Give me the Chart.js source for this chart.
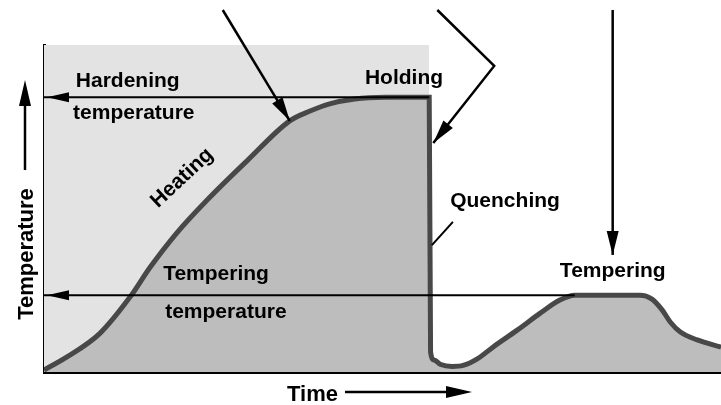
<!DOCTYPE html>
<html>
<head>
<meta charset="utf-8">
<script src="https://cdn.jsdelivr.net/npm/chart.js@4.4.0/dist/chart.umd.min.js"></script>
<style>
  body { margin: 0; background: #fff; }
  #wrap { width: 721px; height: 405px; }
</style>
</head>
<body>
<div id="wrap"><canvas id="myChart" width="721" height="405"></canvas></div>
<script>
    // time / temperature (0-100 both ways)
    var timeVals = [0, 3.4, 8.3, 12.7, 15.7, 19.6, 24.1, 30.1, 36.3, 39.3, 42.2, 45.9, 50.4, 56.9,
                    57.1, 57.6, 58.6, 60.3, 61.9, 64.0, 66.3, 69.9, 73.3, 76.2, 78.4,
                    88.0, 89.8, 91.3, 92.5, 94.0, 96.5, 100]
    var tempVals = [0.6, 4.6, 11.9, 22.9, 32.1, 42.5, 52.6, 64.8, 76.8, 79.8, 82.0, 83.5, 84, 84,
                    6.1, 3.7, 2.3, 1.7, 2.0, 4.0, 7.6, 12.8, 18.0, 22.0, 23.5,
                    23.5, 22.3, 19.0, 15.3, 12.2, 9.8, 7.6]

    var hardeningTemp = 84
    var temperingTemp = 23.5
    var holdingEnd = 56.9
    var temperingStart = 78.4

    // text labels: [text, x, y, rotation]
    var labelText = ['Hardening', 'temperature', 'Holding', 'Heating', 'Quenching', 'Tempering', 'temperature', 'Tempering']
    var labelX = [4.7, 4.3, 47.4, 20.4, 60.0, 17.6, 17.9, 76.2]
    var labelY = [87.2, 77.4, 88.1, 59.3, 50.5, 28.1, 16.5, 29.1]
    var labelRot = [0, 0, 0, -43, 0, 0, 0, 0]

    // pointer arrows (polylines, last point is the tip)
    var arrowPaths = [
        [[26.4, 110.7], [36.3, 76.8]],
        [[58.1, 110.7], [66.5, 93.6], [57.5, 70.0]],
        [[84.0, 110.7], [84.0, 35.8]]
    ]
    var quenchLeader = [[60.4, 45.9], [57.3, 38.8]]

    var curve = timeVals.map(function(t, i) { return {x: t, y: tempVals[i]} })

    function arrowHead(ctx, x0, y0, x1, y1, len, half) {
        var a = Math.atan2(y1 - y0, x1 - x0)
        ctx.beginPath()
        ctx.moveTo(x1, y1)
        ctx.lineTo(x1 - len * Math.cos(a) + half * Math.sin(a), y1 - len * Math.sin(a) - half * Math.cos(a))
        ctx.lineTo(x1 - len * Math.cos(a) - half * Math.sin(a), y1 - len * Math.sin(a) + half * Math.cos(a))
        ctx.closePath()
        ctx.fill()
    }

    var notes = {
        id: 'notes',
        afterDatasetsDraw: function(chart) {
            var ctx = chart.ctx
            var xs = chart.scales.x, ys = chart.scales.y
            var area = chart.chartArea
            ctx.save()
            ctx.fillStyle = '#000'
            ctx.strokeStyle = '#000'
            ctx.font = 'bold 21px "Liberation Sans", Arial, sans-serif'
            ctx.textBaseline = 'alphabetic'

            labelText.forEach(function(txt, i) {
                var px = xs.getPixelForValue(labelX[i]), py = ys.getPixelForValue(labelY[i])
                ctx.save()
                ctx.translate(px, py)
                if (labelRot[i]) {
                    ctx.rotate(labelRot[i] * Math.PI / 180)
                    ctx.textAlign = 'center'
                    ctx.textBaseline = 'middle'
                } else {
                    ctx.textAlign = 'left'
                }
                ctx.fillText(txt, 0, 0)
                ctx.restore()
            })

            // left arrowheads on the two temperature lines
            ctx.lineWidth = 2
            ;[hardeningTemp, temperingTemp].forEach(function(v) {
                var py = ys.getPixelForValue(v)
                arrowHead(ctx, area.left + 30, py, area.left + 3, py, 22, 5)
            })

            // pointers
            ctx.lineWidth = 2.5
            arrowPaths.forEach(function(path) {
                ctx.beginPath()
                path.forEach(function(p, j) {
                    var px = xs.getPixelForValue(p[0]), py = ys.getPixelForValue(p[1])
                    if (j === 0) ctx.moveTo(px, py); else ctx.lineTo(px, py)
                })
                ctx.stroke()
                var a = path[path.length - 2], b = path[path.length - 1]
                arrowHead(ctx, xs.getPixelForValue(a[0]), ys.getPixelForValue(a[1]),
                          xs.getPixelForValue(b[0]), ys.getPixelForValue(b[1]), 24, 6)
            })
            ctx.lineWidth = 2
            ctx.beginPath()
            ctx.moveTo(xs.getPixelForValue(quenchLeader[0][0]), ys.getPixelForValue(quenchLeader[0][1]))
            ctx.lineTo(xs.getPixelForValue(quenchLeader[1][0]), ys.getPixelForValue(quenchLeader[1][1]))
            ctx.stroke()

            // axis captions
            ctx.font = 'bold 22px "Liberation Sans", Arial, sans-serif'
            ctx.textAlign = 'left'
            ctx.fillText('Time', 287, area.bottom + 29)
            ctx.lineWidth = 2.5
            ctx.beginPath(); ctx.moveTo(345, area.bottom + 20); ctx.lineTo(455, area.bottom + 20); ctx.stroke()
            arrowHead(ctx, 345, area.bottom + 20, 472, area.bottom + 20, 26, 6)

            ctx.save()
            ctx.translate(33, 254)
            ctx.rotate(-Math.PI / 2)
            ctx.textAlign = 'center'
            ctx.fillText('Temperature', 0, 0)
            ctx.restore()
            ctx.beginPath(); ctx.moveTo(25, 170); ctx.lineTo(25, 100); ctx.stroke()
            arrowHead(ctx, 25, 170, 25, 80, 26, 6)
            ctx.restore()
        }
    }

    var ctx = document.getElementById('myChart').getContext('2d');
    var myChart = new Chart(ctx, {
        type: 'line',
        data: {
            datasets: [{
                label: 'Hardening temperature',
                data: [{x: 0, y: hardeningTemp}, {x: holdingEnd, y: hardeningTemp}],
                borderColor: '#000',
                borderWidth: 2,
                pointRadius: 0,
                fill: false,
                order: 1
            }, {
                label: 'Tempering temperature',
                data: [{x: 0, y: temperingTemp}, {x: temperingStart, y: temperingTemp}],
                borderColor: '#000',
                borderWidth: 2,
                pointRadius: 0,
                fill: false,
                order: 1
            }, {
                label: 'Heat treatment',
                data: curve,
                borderColor: '#484848',
                backgroundColor: '#bdbdbd',
                borderWidth: 5,
                pointRadius: 0,
                cubicInterpolationMode: 'monotone',
                fill: 'origin',
                order: 2
            }, {
                label: 'Furnace',
                data: [{x: 0, y: 100}, {x: holdingEnd, y: 100}],
                borderWidth: 0,
                borderColor: 'rgba(0,0,0,0)',
                backgroundColor: '#e3e3e3',
                pointRadius: 0,
                fill: 'origin',
                order: 3
            }]
        },
        options: {
            responsive: false,
            animation: false,
            layout: {
                padding: { left: 44, right: 0, top: 45, bottom: 33 }
            },
            plugins: {
                legend: { display: false },
                tooltip: { enabled: false }
            },
            scales: {
                x: {
                    type: 'linear',
                    min: 0,
                    max: 100,
                    grid: { display: false, drawTicks: false },
                    ticks: { display: false },
                    border: { display: true, color: '#000', width: 3 }
                },
                y: {
                    min: 0,
                    max: 100,
                    grid: { display: false, drawTicks: false },
                    ticks: { display: false },
                    border: { display: true, color: '#000', width: 3 }
                }
            }
        },
        plugins: [notes]
    });
</script>
</body>
</html>
